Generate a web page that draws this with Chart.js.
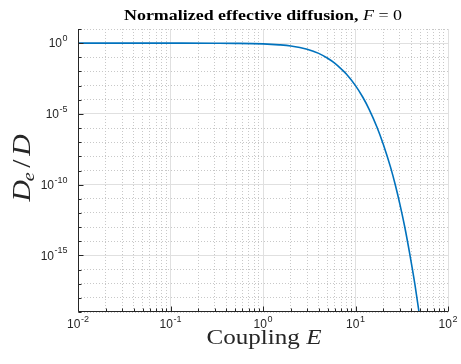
<!DOCTYPE html>
<html>
<head>
<meta charset="utf-8">
<script src="https://cdn.jsdelivr.net/npm/chart.js@4.4.1/dist/chart.umd.min.js"></script>
<style>
  html, body { margin: 0; padding: 0; background: #fff; }
  canvas { display: block; }
</style>
</head>
<body>
<canvas id="chart" width="461" height="364"></canvas>
<script>
// values
const couplingE = [0.01, 0.1, 0.3, 0.5, 1, 1.5, 2, 3, 4, 5, 6, 7, 8, 10, 12, 14, 17, 20, 24, 27, 30, 34, 38.5, 44, 48.6, 52];
const diffusionRatio = [1, 0.999, 0.989, 0.97, 0.885, 0.76, 0.63, 0.37, 0.19, 0.085, 0.037, 0.015, 0.0063,
  1e-3, 1.5e-4, 2.2e-5, 1.25e-6, 7e-8, 1.6e-9, 9e-11, 5e-12, 1.1e-13, 1.4e-15, 8e-18, 1e-19, 4e-21];

const xDecades = [-2, -1, 0, 1, 2];          // labelled x ticks, 10^n
const xMinorSteps = [2, 3, 4, 5, 6, 7, 8, 9];
const yDecades = [-19, -18, -17, -16, -15, -14, -13, -12, -11, -10, -9, -8, -7, -6, -5, -4, -3, -2, -1, 0, 1];
const yLabelDecades = [-15, -10, -5, 0];

const xTicks = [];
xDecades.forEach((d, i) => {
  xTicks.push(Math.pow(10, d));
  if (i < xDecades.length - 1) xMinorSteps.forEach(m => xTicks.push(m * Math.pow(10, d)));
});
const yTicks = yDecades.map(d => Math.pow(10, d));

const axisColor = '#262626';
const majorGrid = '#e0e0e0';
const minorGrid = '#c8c8c8';
const serif = '"Liberation Serif", "Times New Roman", serif';

function isDecade(v) {
  const l = Math.log10(v);
  return Math.abs(l - Math.round(l)) < 1e-9;
}
function isYMajor(v) {
  return yLabelDecades.includes(Math.round(Math.log10(v)));
}

function drawPow(ctx, exp, x, y, align) {
  const base = '10', sup = String(exp);
  ctx.font = '12px "Liberation Sans", Arial, sans-serif';
  const wb = ctx.measureText(base).width;
  ctx.font = '9px "Liberation Sans", Arial, sans-serif';
  const ws = ctx.measureText(sup).width;
  const total = wb + ws + 0.5;
  const x0 = align === 'right' ? x - total : x - total / 2;
  ctx.textBaseline = 'middle';
  ctx.textAlign = 'left';
  ctx.font = '12px "Liberation Sans", Arial, sans-serif';
  ctx.fillText(base, x0, y + 1);
  ctx.font = '9px "Liberation Sans", Arial, sans-serif';
  ctx.fillText(sup, x0 + wb + 0.5, y - 4.5);
}

// draws runs of differently styled text, centred, stretched to a target width
function drawRuns(ctx, runs, cx, baseline, targetWidth) {
  let w = 0;
  runs.forEach(r => { ctx.font = r.font; r.w = ctx.measureText(r.text).width + (r.gap || 0); w += r.w; });
  const sx = targetWidth ? targetWidth / w : 1;
  ctx.save();
  ctx.translate(cx - (w * sx) / 2, baseline);
  ctx.scale(sx, 1);
  ctx.textAlign = 'left';
  ctx.textBaseline = 'alphabetic';
  let x = 0;
  runs.forEach(r => {
    ctx.font = r.font;
    ctx.fillText(r.text, x, r.dy || 0);
    x += r.w;
  });
  ctx.restore();
}

const matlabAxes = {
  id: 'matlabAxes',
  afterDraw(chart) {
    const ctx = chart.ctx;
    const a = chart.chartArea;
    const xs = chart.scales.x, ys = chart.scales.y;
    ctx.save();
    ctx.strokeStyle = axisColor;
    ctx.fillStyle = axisColor;
    ctx.lineWidth = 1;

    // axis lines (box off)
    const L = Math.round(a.left) + 0.5, B = Math.round(a.bottom) - 0.5;
    ctx.beginPath();
    ctx.moveTo(L, a.top);
    ctx.lineTo(L, B);
    ctx.lineTo(a.right, B);
    ctx.stroke();

    // inward ticks
    ctx.beginPath();
    xTicks.forEach(v => {
      const px = Math.round(xs.getPixelForValue(v)) + 0.5;
      const len = isDecade(v) ? 5 : 3;
      ctx.moveTo(px, B);
      ctx.lineTo(px, B - len);
    });
    yTicks.forEach(v => {
      const py = Math.round(ys.getPixelForValue(v)) + 0.5;
      const len = isYMajor(v) ? 5 : 3;
      ctx.moveTo(L, py);
      ctx.lineTo(L + len, py);
    });
    ctx.stroke();

    // tick labels
    xDecades.forEach(d => drawPow(ctx, d, xs.getPixelForValue(Math.pow(10, d)), a.bottom + 12, 'center'));
    yLabelDecades.forEach(d => drawPow(ctx, d, L - 11, ys.getPixelForValue(Math.pow(10, d)), 'right'));

    // title
    ctx.fillStyle = '#000';
    drawRuns(ctx, [
      { text: 'Normalized effective diffusion, ', font: 'bold 14px ' + serif },
      { text: 'F', font: 'italic 14px ' + serif },
      { text: ' = 0', font: '14px ' + serif }
    ], 263, 20, 278);

    // x label
    ctx.fillStyle = axisColor;
    drawRuns(ctx, [
      { text: 'Coupling ', font: '22px ' + serif },
      { text: 'E', font: 'italic 22px ' + serif }
    ], 264, 344, 115);

    // y label, rotated
    ctx.save();
    ctx.translate(30, 168);
    ctx.rotate(-Math.PI / 2);
    drawRuns(ctx, [
      { text: 'D', font: 'italic 25px ' + serif, gap: -1 },
      { text: 'e', font: 'italic 17px ' + serif, dy: 4, gap: 4 },
      { text: '/', font: '25px ' + serif, gap: 3 },
      { text: 'D', font: 'italic 25px ' + serif }
    ], 0, 0, 67);
    ctx.restore();

    ctx.restore();
  }
};

new Chart(document.getElementById('chart').getContext('2d'), {
  type: 'line',
  data: {
    datasets: [{
      data: couplingE.map((e, i) => ({ x: e, y: diffusionRatio[i] })),
      borderColor: '#0072BD',
      borderWidth: 1.6,
      pointRadius: 0,
      cubicInterpolationMode: 'monotone',
      fill: false
    }]
  },
  options: {
    responsive: false,
    animation: false,
    devicePixelRatio: 1,
    layout: { padding: { left: 78, top: 29, right: 13, bottom: 52 } },
    plugins: { legend: { display: false }, title: { display: false }, tooltip: { enabled: false } },
    scales: {
      x: {
        type: 'logarithmic',
        min: 1e-2,
        max: 1e2,
        afterBuildTicks: s => { s.ticks = xTicks.map(v => ({ value: v })); },
        afterFit: s => { s.height = 0; },
        ticks: { display: false },
        grid: {
          color: c => (c.tick && isDecade(c.tick.value) ? majorGrid : minorGrid),
          drawTicks: false,
          lineWidth: 1
        },
        border: { display: false, dash: c => (c.tick && isDecade(c.tick.value) ? [] : [1, 2]) }
      },
      y: {
        type: 'logarithmic',
        min: 1e-19,
        max: 1e1,
        afterBuildTicks: s => { s.ticks = yTicks.map(v => ({ value: v })); },
        afterFit: s => { s.width = 0; },
        ticks: { display: false },
        grid: {
          color: c => (c.tick && isYMajor(c.tick.value) ? majorGrid : minorGrid),
          drawTicks: false,
          lineWidth: 1
        },
        border: { display: false, dash: c => (c.tick && isYMajor(c.tick.value) ? [] : [1, 2]) }
      }
    }
  },
  plugins: [matlabAxes]
});
</script>
</body>
</html>
